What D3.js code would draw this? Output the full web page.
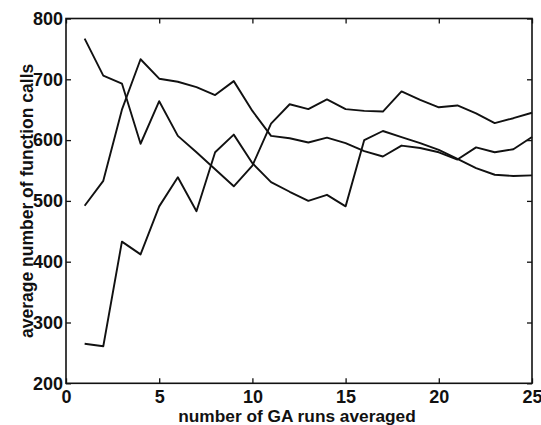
<!DOCTYPE html>
<html>
<head>
<meta charset="utf-8">
<script src="https://cdn.jsdelivr.net/npm/d3@7/dist/d3.min.js"></script>
<style>
  html, body { margin: 0; padding: 0; background: #fff; }
  svg { display: block; }
  text { font-family: "Liberation Sans", Arial, sans-serif; fill: #111; }
</style>
</head>
<body>
<script>
// Number of GA runs averaged (x) for every curve
const runs = d3.range(1, 26);

// Average number of function calls for three independent experiments
const seriesA = [767, 706, 693, 594, 664, 607, 580, 552, 524, 558, 627, 659, 651, 667, 651,
                 648, 647, 680, 666, 654, 657, 644, 628, 636, 645];
const seriesB = [492, 533, 650, 733, 701, 696, 687, 674, 697, 648, 607, 603, 596, 604, 595,
                 582, 573, 591, 587, 580, 568, 588, 580, 585, 605];
const seriesC = [265, 261, 433, 412, 491, 539, 483, 580, 609, 562, 531, 515, 500, 510, 491,
                 600, 615, 605, 595, 584, 569, 554, 543, 541, 542];

const xTicks = [0, 5, 10, 15, 20, 25];
const yTicks = [200, 300, 400, 500, 600, 700, 800];

const xTitle = "number of GA runs averaged";
const yTitle = "average number of function calls";

const W = 541, H = 425;
const m = { left: 66, right: 532, top: 18.5, bottom: 383.3 };

const svg = d3.select("body").append("svg")
  .attr("width", W).attr("height", H);

const x = d3.scaleLinear().domain([0, 25]).range([m.left, m.right]);
const y = d3.scaleLinear().domain([200, 800]).range([m.bottom, m.top]);

const tickLen = 5;

// Bottom axis with labels, top axis with bare ticks (box style)
const gx = svg.append("g").attr("transform", `translate(0,${m.bottom})`)
  .call(d3.axisBottom(x).tickValues(xTicks).tickSizeInner(-tickLen).tickSizeOuter(0).tickPadding(7));
const gxTop = svg.append("g").attr("transform", `translate(0,${m.top})`)
  .call(d3.axisTop(x).tickValues(xTicks).tickSizeInner(-tickLen).tickSizeOuter(0).tickFormat(""));

const gy = svg.append("g").attr("transform", `translate(${m.left},0)`)
  .call(d3.axisLeft(y).tickValues(yTicks).tickSizeInner(-tickLen).tickSizeOuter(0).tickPadding(3));
const gyRight = svg.append("g").attr("transform", `translate(${m.right},0)`)
  .call(d3.axisRight(y).tickValues(yTicks).tickSizeInner(-tickLen).tickSizeOuter(0).tickFormat(""));

[gx, gxTop, gy, gyRight].forEach(g => {
  g.select(".domain").remove();
  g.selectAll(".tick line").attr("stroke", "#111").attr("stroke-width", 1.3);
  g.selectAll("text")
    .attr("font-family", "'Liberation Sans', Arial, sans-serif")
    .attr("font-size", 18)
    .attr("font-weight", "bold")
    .attr("fill", "#111");
});

// Plot frame
svg.append("rect")
  .attr("x", m.left).attr("y", m.top)
  .attr("width", m.right - m.left).attr("height", m.bottom - m.top)
  .attr("fill", "none").attr("stroke", "#111").attr("stroke-width", 1.6);

// Curves
const line = d3.line().x((d, i) => x(runs[i])).y(d => y(d));
[seriesA, seriesB, seriesC].forEach(s => {
  svg.append("path")
    .datum(s)
    .attr("d", line)
    .attr("fill", "none")
    .attr("stroke", "#111")
    .attr("stroke-width", 1.9)
    .attr("stroke-linejoin", "round");
});

// Axis titles
svg.append("text")
  .attr("x", (m.left + m.right) / 2 - 2)
  .attr("y", 421.5)
  .attr("text-anchor", "middle")
  .attr("font-size", 17.3)
  .attr("font-weight", "bold")
  .text(xTitle);

svg.append("text")
  .attr("transform", `translate(33,${(m.top + m.bottom) / 2}) rotate(-90)`)
  .attr("text-anchor", "middle")
  .attr("font-size", 17.5)
  .attr("font-weight", "bold")
  .text(yTitle);
</script>
</body>
</html>
